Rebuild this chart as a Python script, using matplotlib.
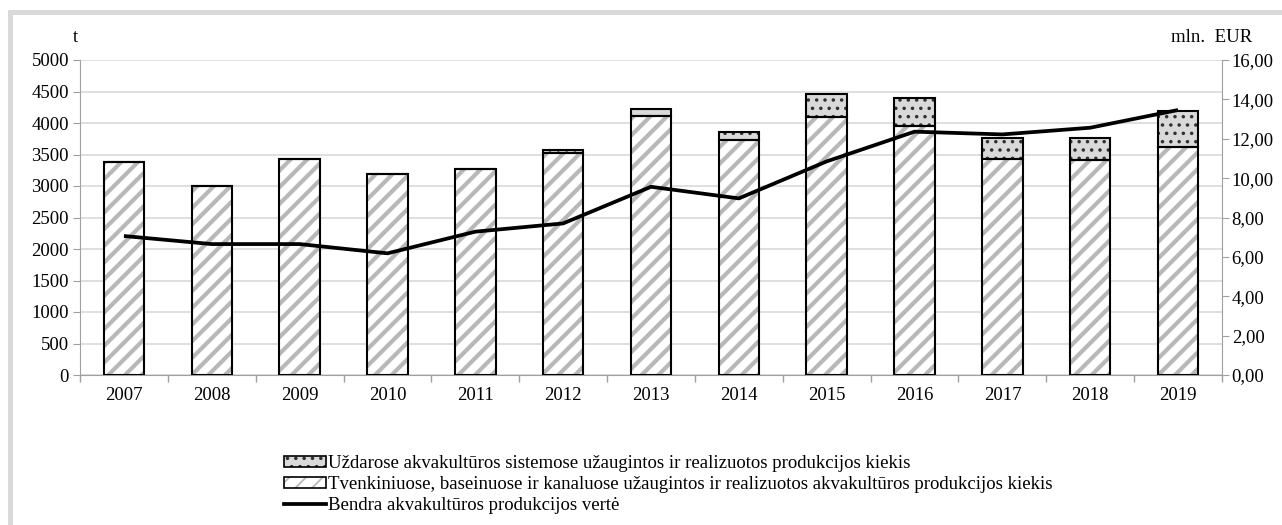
import matplotlib.pyplot as plt
import matplotlib.patches as mpatches
from matplotlib.lines import Line2D
import numpy as np

years = ["2007", "2008", "2009", "2010", "2011", "2012", "2013",
         "2014", "2015", "2016", "2017", "2018", "2019"]
# t, tvenkiniuose / baseinuose / kanaluose
ponds = [3386, 3005, 3429, 3190, 3265, 3519, 4116, 3730, 4090, 3958, 3430, 3410, 3620]
# t, uzdarose sistemose
closed = [0, 0, 0, 0, 0, 52, 106, 132, 370, 439, 330, 350, 570]
# mln. EUR
value = [7.06, 6.65, 6.65, 6.18, 7.28, 7.70, 9.56, 8.97, 10.85, 12.36, 12.22, 12.56, 13.46]

lbl_closed = "Uždarose akvakultūros sistemose užaugintos ir realizuotos produkcijos kiekis"
lbl_ponds = "Tvenkiniuose, baseinuose ir kanaluose užaugintos ir realizuotos akvakultūros produkcijos kiekis"
lbl_value = "Bendra akvakultūros produkcijos vertė"

plt.rcParams['font.family'] = ['Liberation Serif', 'DejaVu Serif']
fs = 13.5

fig = plt.figure(figsize=(12.82, 5.25), dpi=100)
ax = fig.add_axes([80 / 1282, 1 - 375 / 525, 1142 / 1282, 315 / 525])

x = np.arange(len(years))
w = 0.46
stripe = '#b8b8b8'
# hatched fills (hatch colour follows edgecolor)
plt.rcParams['hatch.linewidth'] = 3.0
ax.bar(x, ponds, w, color='white', edgecolor=stripe, hatch='//', linewidth=0, zorder=2)
leg_ponds = mpatches.Patch(facecolor='white', edgecolor=stripe, hatch='//', linewidth=0)
plt.rcParams['hatch.linewidth'] = 1.3
ax.bar(x, closed, w, bottom=ponds, color='#d9d9d9', edgecolor='#303030', hatch='..', linewidth=0, zorder=2)
leg_closed = mpatches.Patch(facecolor='#d9d9d9', edgecolor='#303030', hatch='..', linewidth=0)
# outlines
ax.bar(x, ponds, w, fill=False, edgecolor='black', linewidth=1.5, zorder=3)
ax.bar(x, closed, w, bottom=ponds, fill=False, edgecolor='black', linewidth=1.5, zorder=3)

ax.set_xlim(-0.5, len(years) - 0.5)
ax.set_ylim(0, 5000)
ax.set_yticks(range(0, 5001, 500))
ax.set_xticks(x)
ax.set_xticklabels(years)
ax.set_xticks(np.arange(-0.5, len(years), 1), minor=True)
ax.tick_params(axis='x', which='major', length=0, labelsize=fs, pad=9)
ax.tick_params(axis='x', which='minor', length=5, color='#a0a0a0', width=1)
ax.tick_params(axis='y', length=5, color='#a0a0a0', labelsize=fs, pad=3)
ax.grid(axis='y', color='#d9d9d9', linewidth=1.2, zorder=0)
ax.set_axisbelow(True)
for s in ['top', 'right']:
    ax.spines[s].set_visible(False)
ax.spines['left'].set_color('#a0a0a0')
ax.spines['bottom'].set_color('#a0a0a0')

ax2 = ax.twinx()
ax2.plot(x, value, color='black', linewidth=2.7, solid_capstyle='butt', zorder=4)
ax2.set_ylim(0, 16)
ax2.set_yticks(range(0, 17, 2))
ax2.set_yticklabels([f"{v},00" for v in range(0, 17, 2)])
ax2.tick_params(axis='y', length=5, color='#a0a0a0', labelsize=fs, pad=2)
for s in ['top', 'left', 'bottom']:
    ax2.spines[s].set_visible(False)
ax2.spines['right'].set_color('#a0a0a0')

fig.text(75 / 1282, 1 - 37 / 525, "t", fontsize=fs, ha='center', va='center')
fig.text(1212 / 1282, 1 - 37 / 525, "mln.  EUR", fontsize=fs, ha='center', va='center')

outline = mpatches.Patch(fill=False, edgecolor='black', linewidth=1.2)
handles = [
    (leg_closed, outline),
    (leg_ponds, outline),
    Line2D([], [], color='black', linewidth=2.7),
]
leg = fig.legend(handles, [lbl_closed, lbl_ponds, lbl_value],
                 loc='upper left', bbox_to_anchor=(275 / 1282, 1 - 446 / 525),
                 frameon=False, fontsize=fs, handlelength=2.2, handleheight=0.5,
                 handletextpad=0.1, labelspacing=0.2, borderpad=0)

# outer grey frame (clipped at right and bottom like the source)
fig.patches.append(mpatches.Rectangle((10 / 1282, -0.1), 1.2, 1 - 12 / 525 + 0.1,
                                      transform=fig.transFigure, fill=False,
                                      edgecolor='#d9d9d9', linewidth=3.6))

fig.savefig("out.png", dpi=100)
